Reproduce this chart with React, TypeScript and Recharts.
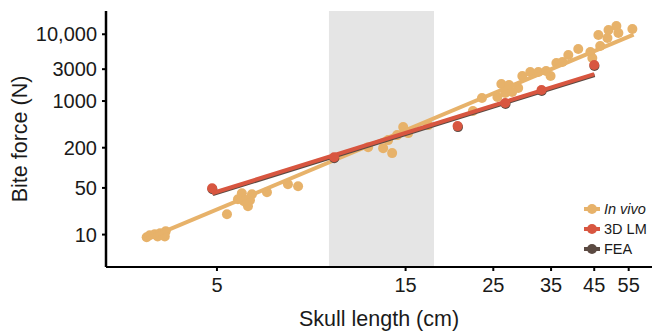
import React from 'react';
import { ComposedChart, Scatter, XAxis, YAxis, ReferenceArea } from 'recharts';

// in vivo measurements
const inVivoLength = [3.32, 3.38, 3.48, 3.59, 3.71, 3.69, 3.54, 5.3, 5.78, 5.65, 6.13, 6.06, 5.99, 5.85, 6.69, 7.56, 8.02, 12.06, 13.16, 13.87, 13.55, 14.28, 14.79, 15.23, 17.11, 22.2, 23.4, 25.6, 26.2, 27.4, 26.8, 28.9, 29.6, 31.0, 32.5, 34.0, 34.9, 36.1, 37.4, 38.7, 41.0, 44.0, 44.5, 46.1, 46.6, 48.6, 48.9, 51.2, 51.8, 56.2, 27.9];
const inVivoForce = [9.1, 9.8, 10.1, 10.5, 11.2, 9.4, 9.4, 20.2, 41.6, 33.8, 40.2, 32.7, 26.6, 31.6, 43.1, 56.8, 53.0, 204, 197, 166, 260, 309, 407, 331, 436, 707, 1108, 1147, 1797, 1736, 1317, 1565, 2369, 2720, 2720, 2815, 2369, 3711, 3842, 4891, 6018, 5427, 4411, 9761, 6675, 8801, 11600, 13320, 10460, 12010, 1363];

const lmLength = [4.86, 9.89, 20.3, 26.8, 33.1, 45.0];
const lmForce = [49.4, 144, 421, 933, 1459, 3470];
const feaLength = [4.87, 9.9, 20.35, 26.85, 33.15, 45.05];
const feaForce = [47.8, 139, 407, 902, 1410, 3355];

// fitted power-law lines (end points)
const inVivoFitLength = [3.32, 56.6];
const inVivoFitForce = [8.6, 9900];
const lmFitLength = [4.86, 45.0];
const lmFitForce = [41.6, 2535];
const feaFitLength = [4.88, 45.1];
const feaFitForce = [40.3, 2455];

const xTicks = [5, 15, 25, 35, 45, 55];
const yTicks = [10, 50, 200, 1000, 3000, 10000];
const bandRange = [9.6, 17.7];

const C_VIVO = '#E7B26A';
const C_LM = '#D85640';
const C_FEA = '#5B4A42';

const pairs = (xs: number[], ys: number[]) => xs.map((x, i) => ({ x, y: ys[i] }));

const dot = (color: string) => (p: any) => <circle cx={p.cx} cy={p.cy} r={5} fill={color} />;
const none = () => <g />;

const legendItems = [
  { label: 'In vivo', color: C_VIVO, italic: true },
  { label: '3D LM', color: C_LM, italic: false },
  { label: 'FEA', color: C_FEA, italic: false },
];

export default function App() {
  return (
    <div style={{ position: 'relative', width: 652, height: 331, fontFamily: '"Liberation Sans", Arial, sans-serif' }}>
      <style>{'body{margin:0}'}</style>
      <ComposedChart width={652} height={331} margin={{ top: 11, right: 0, left: 0, bottom: 0 }}>
        <XAxis
          dataKey="x"
          type="number"
          scale="log"
          domain={[2.62, 63]}
          allowDataOverflow
          ticks={xTicks}
          height={64}
          tickSize={4}
          tickMargin={7}
          tick={{ fill: '#1a1a1a', fontSize: 20 }}
          axisLine={{ stroke: '#000', strokeWidth: 2 }}
          tickLine={{ stroke: '#000', strokeWidth: 2 }}
          label={{ value: 'Skull length (cm)', position: 'insideBottom', offset: 5, fill: '#1a1a1a', fontSize: 21.5 }}
        />
        <YAxis
          dataKey="y"
          type="number"
          scale="log"
          domain={[3.27, 22300]}
          allowDataOverflow
          ticks={yTicks}
          width={106}
          tickSize={4}
          tickMargin={5}
          tickFormatter={(v: number) => (v === 10000 ? '10,000' : String(v))}
          tick={{ fill: '#1a1a1a', fontSize: 20 }}
          axisLine={{ stroke: '#000', strokeWidth: 2.5 }}
          tickLine={{ stroke: '#000', strokeWidth: 2 }}
          label={{ value: 'Bite force (N)', angle: -90, position: 'insideLeft', offset: 19, fill: '#1a1a1a', fontSize: 21.5, style: { textAnchor: 'middle' } }}
        />
        <ReferenceArea x1={bandRange[0]} x2={bandRange[1]} fill="#E5E5E5" fillOpacity={1} stroke="none" ifOverflow="hidden" />
        <Scatter data={pairs(inVivoLength, inVivoForce)} fill={C_VIVO} shape={dot(C_VIVO)} isAnimationActive={false} />
        <Scatter data={pairs(inVivoFitLength, inVivoFitForce)} line={{ stroke: C_VIVO, strokeWidth: 4 }} shape={none} isAnimationActive={false} />
        <Scatter data={pairs(feaFitLength, feaFitForce)} line={{ stroke: C_FEA, strokeWidth: 4 }} shape={none} isAnimationActive={false} />
        <Scatter data={pairs(feaLength, feaForce)} fill={C_FEA} shape={dot(C_FEA)} isAnimationActive={false} />
        <Scatter data={pairs(lmFitLength, lmFitForce)} line={{ stroke: C_LM, strokeWidth: 4 }} shape={none} isAnimationActive={false} />
        <Scatter data={pairs(lmLength, lmForce)} fill={C_LM} shape={dot(C_LM)} isAnimationActive={false} />
      </ComposedChart>
      <div style={{ position: 'absolute', left: 583, top: 199, fontSize: 14.5, color: '#1a1a1a' }}>
        {legendItems.map((it) => (
          <div key={it.label} style={{ display: 'flex', alignItems: 'center', height: 20 }}>
            <svg width={18} height={12} style={{ marginRight: 3 }}>
              <line x1={1} y1={6} x2={17} y2={6} stroke={it.color} strokeWidth={4} />
              <circle cx={9} cy={6} r={5} fill={it.color} />
            </svg>
            <span style={{ fontStyle: it.italic ? 'italic' : 'normal' }}>{it.label}</span>
          </div>
        ))}
      </div>
    </div>
  );
}
